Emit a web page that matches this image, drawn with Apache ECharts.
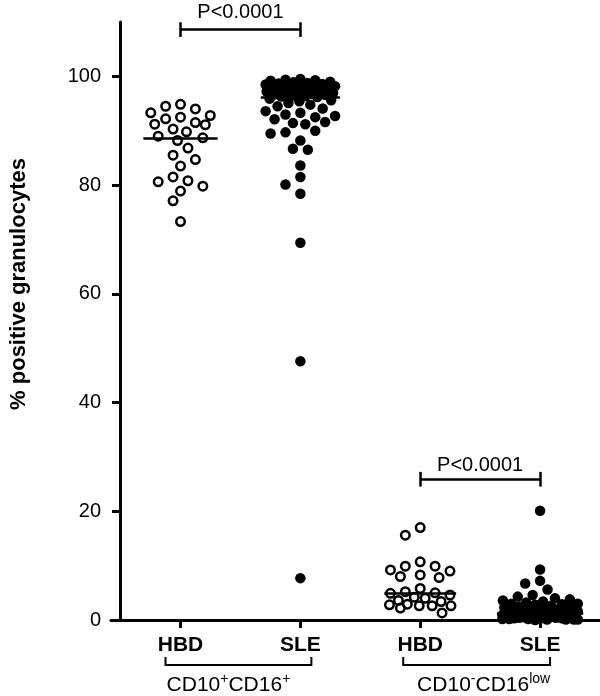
<!DOCTYPE html>
<html>
<head>
<meta charset="utf-8">
<script src="https://cdn.jsdelivr.net/npm/echarts@6/dist/echarts.min.js"></script>
<style>html,body{margin:0;padding:0;background:#fff}#c{width:600px;height:696px}</style>
</head>
<body>
<div id="c"></div>
<script>
// ---------- data ----------
const categories = ['HBD', 'SLE', 'HBD', 'SLE'];
const yTicks = [0, 20, 40, 60, 80, 100];
const pValueText = 'P<0.0001';
const yAxisTitle = '% positive granulocytes';

// CD10+CD16+
const hbdPos = [94.85, 94.5, 94.0, 93.3, 92.8, 92.5, 92.2, 91.5, 91.2, 91.1, 90.3, 89.8, 89.0,
  88.7, 88.2, 86.8, 85.5, 84.7, 83.5, 81.5, 80.8, 80.6, 79.8, 78.9, 77.1, 73.3];
const slePos = [99.5, 99.4, 99.3, 99.2, 99.0, 98.9, 98.8, 98.7, 98.6, 98.5, 98.4, 98.3, 98.2, 98.0,
  97.9, 97.8, 97.7, 97.6, 97.5, 97.4, 97.2, 97.1, 97.0, 96.9, 96.8, 96.7, 96.6, 96.5, 96.4, 96.3, 96.2,
  95.9, 95.6, 95.4, 95.1, 94.8, 94.5, 94.1, 93.6, 93.3, 93.0, 92.7, 92.5, 92.1, 91.6, 91.4, 91.2,
  90.0, 89.7, 89.5, 88.2, 86.7, 86.5, 83.6, 81.5, 80.1, 78.4, 69.4, 47.6, 7.7];
// CD10-CD16low
const hbdNeg = [17.0, 15.6, 10.7, 9.9, 9.9, 9.2, 9.0, 8.3, 8.0, 7.8, 5.8, 5.2, 5.0, 4.9, 4.6, 4.2,
  4.0, 3.6, 3.4, 2.9, 2.8, 2.6, 2.6, 2.6, 2.2, 1.3];
const sleNeg = [20.1, 9.3, 7.2, 6.7, 5.6, 4.6, 4.3, 4.0, 3.8, 3.6, 3.4, 3.2, 3.0, 3.0, 2.9, 2.8, 2.6,
  2.5, 2.4, 2.3, 2.2, 2.0, 1.9, 1.8, 1.7, 1.6, 1.5, 1.4, 1.3, 1.3, 1.2, 1.1, 1.1, 1.0, 1.0, 0.9, 0.9,
  0.8, 0.8, 0.7, 0.7, 0.6, 0.6, 0.5, 0.5, 0.5, 0.4, 0.4, 0.4, 0.3, 0.3, 0.3, 0.2, 0.2, 0.2, 0.1, 0.1,
  0.1, 0.1, 0.0];
const medians = [88.7, 96.2, 5.0, 1.2];

// ---------- layout / style ----------
const FONT = "'Liberation Sans', Arial, Helvetica, sans-serif";
const GRID = { left: 107, right: 0, top: 22, bottom: 76 };
const X_MIN = 0.42, X_MAX = 4.5, Y_MIN = 0, Y_MAX = 110;
const W = 600 - GRID.left - GRID.right, H = 696 - GRID.top - GRID.bottom;
const kx = W / (X_MAX - X_MIN), ky = H / (Y_MAX - Y_MIN);

// column-style scatter (Prism-like): x offsets on a lattice, avoiding overlap, width capped
function swarm(values, d, maxW, step) {
  const pts = values.map((v, i) => ({ v, i, y: v * ky })).sort((a, b) => b.v - a.v);
  const lattice = [0];
  for (let s = step / 2; s <= maxW + 1e-6; s += step / 2) lattice.push(-s, s);
  const fine = [0];
  for (let s = 1; s <= maxW; s += 1) fine.push(-s, s);
  const placed = [];
  for (const p of pts) {
    const near = placed.filter(q => Math.abs(q.y - p.y) < d);
    let best = null;
    for (const c of lattice) {
      if (near.every(q => (q.x - c) ** 2 + (q.y - p.y) ** 2 >= d * d - 1e-6)) { best = c; break; }
    }
    if (best === null) {
      let bestScore = -1;
      for (const c of fine) {
        let m = Infinity;
        near.forEach(q => { m = Math.min(m, (q.x - c) ** 2 + (q.y - p.y) ** 2); });
        if (m > bestScore + 1e-6) { bestScore = m; best = c; }
      }
    }
    p.x = best;
    placed.push(p);
  }
  const out = new Array(values.length);
  pts.forEach(p => { out[p.i] = p.x; });
  return out;
}

function makeData(values, cat, d, maxW, step) {
  const off = swarm(values, d, maxW, step);
  return values.map((v, k) => [cat + off[k] / kx, v]);
}

function medianLine(cat, m, half) {
  return {
    silent: true, symbol: 'none', label: { show: false },
    lineStyle: { color: '#000', width: 2.5, type: 'solid', opacity: 1 },
    emphasis: { disabled: true },
    data: [[{ coord: [cat - half, m] }, { coord: [cat + half, m] }]]
  };
}

function bracketLines(c1, c2, yv, cap) {
  return [
    [{ coord: [c1, yv] }, { coord: [c2, yv] }],
    [{ coord: [c1, yv - cap] }, { coord: [c1, yv + cap] }],
    [{ coord: [c2, yv - cap] }, { coord: [c2, yv + cap] }]
  ];
}

const openStyle = { color: 'rgba(255,255,255,0)', borderColor: '#000', borderWidth: 2.5, opacity: 1 };
const fillStyle = { color: '#000', opacity: 1 };

const TOP_BR = 108.6, BOT_BR = 25.9, CAP = 1.35;

const chart = echarts.init(document.getElementById('c'));
const option = {
  animation: false,
  backgroundColor: '#fff',
  textStyle: { fontFamily: FONT, color: '#000' },
  grid: { left: GRID.left, right: GRID.right, top: GRID.top, bottom: GRID.bottom, containLabel: false },
  xAxis: {
    type: 'value', min: X_MIN, max: X_MAX,
    splitLine: { show: false },
    axisLine: { show: true, onZero: false, lineStyle: { color: '#000', width: 3 } },
    axisTick: { show: true, customValues: [1, 2, 3, 4], length: 8, lineStyle: { color: '#000', width: 3 } },
    axisLabel: {
      customValues: [1, 2, 3, 4], formatter: v => categories[Math.round(v) - 1],
      fontSize: 21, fontWeight: 'bold', color: '#000', margin: 15, fontFamily: FONT
    }
  },
  yAxis: {
    type: 'value', min: Y_MIN, max: Y_MAX, offset: -9,
    splitLine: { show: false },
    axisLine: { show: true, onZero: false, lineStyle: { color: '#000', width: 3 } },
    axisTick: { show: true, customValues: yTicks, length: 8, lineStyle: { color: '#000', width: 3 } },
    axisLabel: { customValues: yTicks, fontSize: 20, color: '#000', margin: 19, fontFamily: FONT },
    name: yAxisTitle, nameLocation: 'middle', nameGap: 90,
    nameTextStyle: { fontSize: 22, fontWeight: 'bold', color: '#000', fontFamily: FONT, padding: [0, 0, 0, 74] }
  },
  series: [
    { type: 'scatter', symbol: 'circle', symbolSize: 8.5, itemStyle: openStyle, silent: true,
      data: makeData(hbdPos, 1, 12, 31, 15), markLine: medianLine(1, medians[0], 0.31) },
    { type: 'scatter', symbol: 'circle', symbolSize: 10.5, itemStyle: fillStyle, silent: true,
      data: makeData(slePos, 2, 11, 35, 15), markLine: medianLine(2, medians[1], 0.33) },
    { type: 'scatter', symbol: 'circle', symbolSize: 8.5, itemStyle: openStyle, silent: true,
      data: makeData(hbdNeg, 3, 12, 31, 15), markLine: medianLine(3, medians[2], 0.30) },
    { type: 'scatter', symbol: 'circle', symbolSize: 10.5, itemStyle: fillStyle, silent: true,
      data: makeData(sleNeg, 4, 11, 38, 15), markLine: medianLine(4, medians[3], 0.36) },
    { type: 'scatter', data: [], silent: true,
      markLine: {
        silent: true, symbol: 'none', label: { show: false },
        lineStyle: { color: '#000', width: 2.5, type: 'solid', opacity: 1 },
        data: bracketLines(1, 2, TOP_BR, CAP).concat(bracketLines(3, 4, BOT_BR, CAP))
      } }
  ]
};
chart.setOption(option);

// annotations placed through the chart's own coordinate conversion
const toPx = (x, y) => chart.convertToPixel({ gridIndex: 0 }, [x, y]);
const pTop = toPx(1.5, TOP_BR), pBot = toPx(3.5, BOT_BR);
const c1 = toPx(1, 0), c2 = toPx(2, 0), c3 = toPx(3, 0), c4 = toPx(4, 0);
const br1 = [c1[0] - 15, c2[0] + 11], br2 = [c3[0] - 17, c4[0] + 10];
const brTop = c1[1] + 37, brBot = c1[1] + 45;
const richBase = {
  a: { fontSize: 21, lineHeight: 26, fontFamily: FONT, fill: '#000' },
  s: { fontSize: 14, lineHeight: 14, verticalAlign: 'top', fontFamily: FONT, fill: '#000' }
};
chart.setOption({
  graphic: [
    { type: 'text', x: pTop[0], y: pTop[1] - 17, style: { text: pValueText, fontSize: 20, fontFamily: FONT, fill: '#000', textAlign: 'center', textVerticalAlign: 'middle' } },
    { type: 'text', x: pBot[0], y: pBot[1] - 14, style: { text: pValueText, fontSize: 20, fontFamily: FONT, fill: '#000', textAlign: 'center', textVerticalAlign: 'middle' } },
    { type: 'polyline', shape: { points: [[br1[0], brTop], [br1[0], brBot], [br1[1], brBot], [br1[1], brTop]] }, style: { stroke: '#000', lineWidth: 2, fill: null } },
    { type: 'polyline', shape: { points: [[br2[0], brTop], [br2[0], brBot], [br2[1], brBot], [br2[1], brTop]] }, style: { stroke: '#000', lineWidth: 2, fill: null } },
    { type: 'text', x: (br1[0] + br1[1]) / 2 - 10, y: brBot + 20,
      style: { text: '{a|CD10}{s|+}{a|CD16}{s|+}', rich: richBase, textAlign: 'center', textVerticalAlign: 'middle' } },
    { type: 'text', x: (br2[0] + br2[1]) / 2 + 7, y: brBot + 20,
      style: { text: '{a|CD10}{s|-}{a|CD16}{s|low}', rich: richBase, textAlign: 'center', textVerticalAlign: 'middle' } }
  ]
});
</script>
</body>
</html>
